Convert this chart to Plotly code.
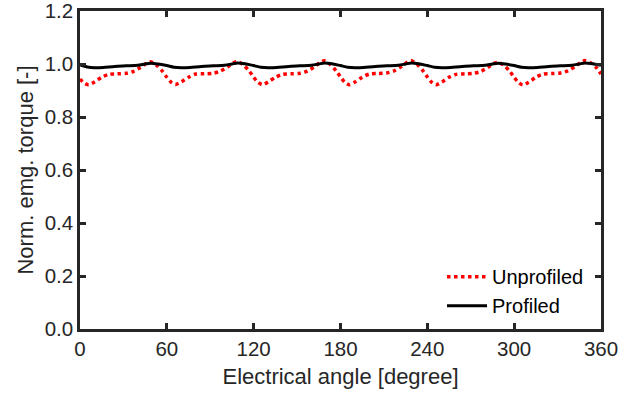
import plotly.graph_objects as go

# Unprofiled torque (normalised) vs electrical angle
angle_unprof = [
    0, 3, 6, 10, 15, 20, 26, 32, 37, 42, 46, 49, 53, 57,
    60, 63, 66, 70, 75, 80, 86, 92, 97, 102, 106, 109, 113, 117,
    120, 123, 126, 130, 135, 140, 146, 152, 157, 162, 166, 169, 173, 177,
    180, 183, 186, 190, 195, 200, 206, 212, 217, 222, 226, 229, 233, 237,
    240, 243, 246, 250, 255, 260, 266, 272, 277, 282, 286, 289, 293, 297,
    300, 303, 306, 310, 315, 320, 326, 332, 337, 342, 346, 349, 353, 357, 360,
]
torque_unprof = [
    0.943, 0.928, 0.922, 0.932, 0.950, 0.961, 0.963, 0.965, 0.972, 0.988, 1.003, 1.008, 0.995, 0.972,
    0.950, 0.931, 0.923, 0.933, 0.950, 0.962, 0.963, 0.965, 0.973, 0.989, 1.004, 1.009, 0.996, 0.973,
    0.950, 0.931, 0.922, 0.932, 0.950, 0.961, 0.963, 0.965, 0.973, 0.990, 1.006, 1.012, 0.998, 0.974,
    0.951, 0.931, 0.922, 0.932, 0.950, 0.962, 0.964, 0.966, 0.974, 0.990, 1.006, 1.012, 0.998, 0.974,
    0.951, 0.931, 0.922, 0.932, 0.950, 0.961, 0.963, 0.965, 0.972, 0.988, 1.002, 1.006, 0.995, 0.972,
    0.950, 0.930, 0.921, 0.931, 0.950, 0.962, 0.964, 0.966, 0.974, 0.990, 1.006, 1.013, 1.004, 0.985, 0.962,
]

# Profiled torque (normalised)
angle_prof = [
    0, 5, 10, 16, 24, 32, 40, 45, 49, 54,
    60, 65, 70, 76, 84, 92, 100, 105, 109, 114,
    120, 125, 130, 136, 144, 152, 160, 165, 169, 174,
    180, 185, 190, 196, 204, 212, 220, 225, 229, 234,
    240, 245, 250, 256, 264, 272, 280, 285, 289, 294,
    300, 305, 310, 316, 324, 332, 340, 345, 349, 354, 360,
]
torque_prof = [
    0.996, 0.989, 0.986, 0.987, 0.991, 0.993, 0.995, 1.000, 1.003, 1.000,
    0.994, 0.988, 0.986, 0.987, 0.991, 0.993, 0.995, 1.000, 1.004, 1.001,
    0.994, 0.988, 0.986, 0.987, 0.991, 0.993, 0.995, 1.000, 1.004, 1.001,
    0.994, 0.988, 0.986, 0.987, 0.991, 0.993, 0.995, 1.000, 1.004, 1.001,
    0.994, 0.988, 0.986, 0.987, 0.991, 0.993, 0.995, 1.000, 1.003, 1.000,
    0.994, 0.988, 0.986, 0.987, 0.991, 0.993, 0.995, 1.000, 1.004, 1.001, 0.995,
]

x_ticks = [0, 60, 120, 180, 240, 300, 360]
y_ticks = [0.0, 0.2, 0.4, 0.6, 0.8, 1.0, 1.2]

axis_color = "#262626"
font_family = "Liberation Sans, Arial, Helvetica, sans-serif"

fig = go.Figure()
fig.add_trace(go.Scatter(
    x=angle_unprof, y=torque_unprof, mode="lines", name="Unprofiled",
    line=dict(color="#ff0000", width=3.5, dash="dot", shape="spline", smoothing=0.8),
))
fig.add_trace(go.Scatter(
    x=angle_prof, y=torque_prof, mode="lines", name="Profiled",
    line=dict(color="#000000", width=3, shape="spline", smoothing=0.8),
))

axis_common = dict(
    showline=True, linecolor=axis_color, linewidth=2.5, mirror="ticks",
    ticks="inside", ticklen=6, tickwidth=2.5, tickcolor=axis_color,
    showgrid=False, zeroline=False, automargin=False,
    ticklabeloverflow="allow",
    tickfont=dict(family=font_family, size=20.5, color=axis_color),
    title_font=dict(family=font_family, size=22, color=axis_color),
)

fig.update_xaxes(
    range=[0, 360], tickvals=x_ticks, ticktext=[str(v) for v in x_ticks],
    title_text="Electrical angle [degree]", title_standoff=10, **axis_common,
)
fig.update_yaxes(
    range=[0, 1.2], tickvals=y_ticks, ticktext=[f"{v:.1f}" for v in y_ticks],
    title_text="Norm. emg. torque [-]", title_standoff=5, **axis_common,
)

fig.update_layout(
    width=641, height=401,
    margin=dict(l=80, r=40, t=11, b=72),
    plot_bgcolor="white", paper_bgcolor="white",
    font=dict(family=font_family, size=20, color="#000000"),
    legend=dict(
        x=0.977, y=0.012, xanchor="right", yanchor="bottom",
        bgcolor="rgba(255,255,255,0)", borderwidth=0,
        font=dict(family=font_family, size=20, color="#000000"),
        itemwidth=40, tracegroupgap=0,
    ),
    showlegend=True,
)

fig.write_html(
    "out.html",
    config={"displayModeBar": False},
    post_script="document.body.style.margin='0px';",
)
